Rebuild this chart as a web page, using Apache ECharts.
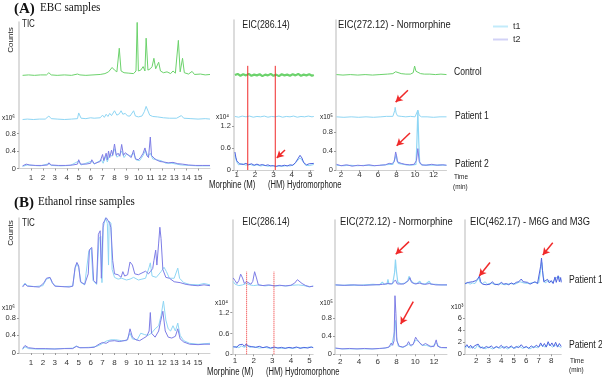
<!DOCTYPE html>
<html>
<head>
<meta charset="utf-8">
<script src="https://cdn.jsdelivr.net/npm/echarts@6.0.0/dist/echarts.min.js"></script>
<style>html,body{margin:0;background:#fff}#chart{width:602px;height:377px}</style>
</head>
<body>
<div id="chart"></div>
<script>
// tick labels
var ticTicks = [1,2,3,4,5,6,7,8,9,10,11,12,13,14,15];
var eic286Ticks = [1,2,3,4,5];
var eic272Ticks = [2,4,6,8,10,12];
var eic462Ticks = [2,3,4,5,6,7,8];
var ticY = [0,0.4,0.8];
var eic286Y = [0,0.6,1.2];
var eic272Y = [0,0.4,0.8];
var eic462Y = [0,2,4,6];

// (A) EBC samples - [time min, intensity]
var aTicCtrl = [[0.3,0],[0.8,0.01],[1.3,0],[1.8,0.01],[2.3,0.01],[2.5,0.06],[2.7,0.01],[3.2,0],[3.8,0.01],[4.4,0],[4.9,0.03],[5.1,0.01],[5.6,0],[6.2,0.01],[6.8,0.02],[7.2,0.04],[7.5,0.08],[7.8,0.18],[8.0,0.12],[8.2,0.08],[8.4,0.62],[8.55,0.1],[8.8,0.06],[9.2,0.05],[9.6,0.04],[9.8,0.1],[9.9,1.21],[10.0,0.1],[10.2,0.12],[10.4,0.2],[10.55,0.1],[10.65,0.85],[10.8,0.12],[11.0,0.15],[11.15,0.2],[11.3,0.39],[11.45,0.15],[11.7,0.3],[11.85,0.1],[12.1,0.06],[12.4,0.08],[12.7,0.04],[12.9,0.1],[13.1,0.05],[13.35,0.8],[13.5,0.08],[13.7,0.39],[13.85,0.06],[14.2,0.03],[14.5,0.09],[14.7,0.02],[15.2,0.03],[15.6,0.01],[16,0.02]];
var aTicP1 = [[0.3,0.02],[0.7,0.03],[1.2,0.02],[1.7,0.03],[2.2,0.03],[2.5,0.1],[2.7,0.04],[3.2,0.03],[3.8,0.02],[4.4,0.03],[4.9,0.04],[5.0,0.17],[5.2,0.05],[5.6,0.04],[6.0,0.06],[6.1,0.1],[6.3,0.05],[6.8,0.06],[7.0,0.12],[7.15,0.07],[7.3,0.14],[7.45,0.09],[7.6,0.16],[7.75,0.11],[8.0,0.22],[8.2,0.12],[8.4,0.15],[8.55,0.22],[8.7,0.14],[8.9,0.16],[9.1,0.1],[9.3,0.1],[9.6,0.22],[9.75,0.1],[10.0,0.08],[10.3,0.1],[10.5,0.2],[10.65,0.32],[10.8,0.3],[10.95,0.12],[11.2,0.09],[11.6,0.08],[12.1,0.06],[12.6,0.05],[13.2,0.05],[13.6,0.11],[13.8,0.05],[14.4,0.04],[15.0,0.03],[15.6,0.04],[16,0.03]];
var aTicP2t1 = [[0.3,0.05],[0.7,0.08],[1.2,0.07],[1.8,0.06],[2.5,0.11],[2.7,0.07],[3.5,0.06],[4.3,0.07],[5.0,0.17],[5.2,0.08],[6.1,0.17],[6.3,0.1],[6.9,0.2],[7.05,0.12],[7.25,0.28],[7.4,0.15],[7.6,0.32],[7.8,0.28],[8.0,0.45],[8.2,0.26],[8.4,0.3],[8.6,0.4],[8.8,0.25],[9.0,0.33],[9.3,0.28],[9.6,0.35],[9.8,0.2],[10.1,0.18],[10.4,0.3],[10.6,0.42],[10.8,0.28],[11.0,0.35],[11.2,0.22],[11.5,0.2],[11.9,0.18],[12.3,0.12],[12.8,0.12],[13.2,0.1],[13.6,0.08],[14.3,0.07],[15,0.06],[16,0.06]];
var aTicP2t2 = [[0.3,0.06],[0.6,0.1],[0.9,0.08],[1.4,0.07],[1.9,0.07],[2.4,0.08],[2.5,0.13],[2.7,0.08],[3.3,0.07],[3.9,0.07],[4.5,0.08],[4.9,0.1],[5.0,0.2],[5.15,0.1],[5.6,0.1],[6.0,0.12],[6.1,0.2],[6.3,0.11],[6.8,0.16],[7.0,0.32],[7.1,0.18],[7.3,0.35],[7.4,0.2],[7.5,0.4],[7.6,0.25],[7.75,0.42],[7.85,0.3],[8.0,0.56],[8.15,0.3],[8.3,0.35],[8.45,0.28],[8.6,0.55],[8.75,0.3],[8.9,0.36],[9.05,0.38],[9.2,0.3],[9.4,0.25],[9.6,0.42],[9.75,0.22],[10.0,0.2],[10.2,0.26],[10.4,0.35],[10.55,0.47],[10.7,0.3],[10.85,0.25],[11.0,0.72],[11.1,0.3],[11.3,0.24],[11.5,0.2],[11.8,0.16],[12.1,0.15],[12.5,0.13],[12.9,0.14],[13.3,0.11],[13.7,0.1],[14.2,0.08],[14.8,0.07],[15.4,0.07],[16,0.07]];

var aEic286Ctrl = [[0.9,0.03],[1.05,0.06],[1.2,0.01],[1.35,0.05],[1.5,0.02],[1.65,0.06],[1.8,0.01],[1.95,0.04],[2.1,0.02],[2.25,0.05],[2.4,0.0],[2.55,0.04],[2.7,0.02],[2.85,0.06],[3.0,0.01],[3.15,0.04],[3.3,0.0],[3.45,0.05],[3.6,0.02],[3.75,0.04],[3.9,0.01],[4.05,0.05],[4.2,0.02],[4.35,0.06],[4.5,0.01],[4.65,0.04],[4.8,0.02],[4.95,0.05],[5.1,0.01],[5.2,0.03]];
var aEic286P1 = [[0.9,0.04],[1.1,0.02],[1.3,0.05],[1.5,0.03],[1.7,0.05],[1.9,0.02],[2.1,0.04],[2.3,0.03],[2.5,0.05],[2.7,0.02],[2.9,0.04],[3.1,0.03],[3.3,0.05],[3.5,0.02],[3.7,0.04],[3.9,0.03],[4.1,0.05],[4.3,0.02],[4.5,0.04],[4.7,0.03],[4.9,0.05],[5.1,0.03],[5.2,0.04]];
var aEic286P2t1 = [[0.9,0.4],[1.0,0.22],[1.1,0.14],[1.3,0.17],[1.5,0.13],[1.7,0.16],[1.9,0.12],[2.1,0.14],[2.3,0.11],[2.5,0.13],[2.7,0.1],[2.9,0.12],[3.1,0.09],[3.3,0.11],[3.5,0.1],[3.7,0.12],[3.9,0.11],[4.1,0.14],[4.3,0.25],[4.45,0.33],[4.6,0.24],[4.75,0.13],[4.95,0.12],[5.2,0.15]];
var aEic286P2t2 = [[0.9,0.49],[0.95,0.35],[1.0,0.25],[1.05,0.2],[1.15,0.17],[1.25,0.2],[1.35,0.15],[1.5,0.18],[1.65,0.14],[1.8,0.17],[1.95,0.13],[2.1,0.16],[2.25,0.13],[2.4,0.15],[2.55,0.12],[2.7,0.14],[2.85,0.11],[3.0,0.12],[3.15,0.1],[3.3,0.12],[3.45,0.11],[3.6,0.13],[3.75,0.11],[3.9,0.14],[4.05,0.13],[4.2,0.2],[4.35,0.32],[4.45,0.4],[4.55,0.33],[4.65,0.2],[4.8,0.14],[4.95,0.17],[5.05,0.13],[5.2,0.18]];

var aEic272Ctrl = [[1.5,0.01],[2.2,0.0],[3.0,0.01],[3.8,0.0],[4.6,0.01],[5.4,0.0],[6.2,0.01],[7.0,0.02],[7.6,0.03],[7.9,0.07],[8.1,0.04],[8.5,0.03],[9.0,0.02],[9.5,0.02],[9.8,0.05],[9.95,0.19],[10.1,0.08],[10.3,0.05],[10.6,0.03],[11.0,0.02],[11.6,0.02],[12.2,0.01],[12.8,0.02],[13.4,0.01]];
var aEic272P1 = [[1.5,0.02],[2.3,0.01],[3.1,0.02],[3.9,0.01],[4.7,0.02],[5.5,0.01],[6.3,0.02],[6.9,0.03],[7.0,0.07],[7.1,0.02],[7.6,0.03],[7.8,0.15],[7.85,0.22],[7.95,0.1],[8.1,0.04],[8.5,0.03],[9.0,0.02],[9.5,0.03],[10.0,0.02],[10.15,0.06],[10.3,0.16],[10.45,0.05],[10.7,0.02],[11.3,0.02],[12.0,0.01],[12.7,0.02],[13.4,0.02]];
var aEic272P2t1 = [[1.5,0.1],[2.2,0.09],[3.0,0.1],[3.8,0.09],[4.6,0.1],[5.4,0.09],[6.2,0.1],[6.8,0.11],[7.2,0.12],[7.6,0.12],[7.85,0.25],[7.95,0.32],[8.05,0.2],[8.2,0.14],[8.5,0.13],[9.0,0.11],[9.6,0.1],[10.1,0.12],[10.2,0.6],[10.3,1.26],[10.4,0.6],[10.5,0.15],[10.8,0.1],[11.4,0.11],[12.0,0.1],[12.6,0.11],[13.4,0.1]];
var aEic272P2t2 = [[1.5,0.12],[2.0,0.09],[2.6,0.11],[3.2,0.08],[3.8,0.1],[4.4,0.09],[5.0,0.11],[5.6,0.09],[6.2,0.1],[6.8,0.11],[7.2,0.14],[7.5,0.13],[7.75,0.18],[7.9,0.38],[8.0,0.3],[8.1,0.17],[8.3,0.2],[8.5,0.14],[8.9,0.12],[9.4,0.11],[9.9,0.12],[10.15,0.2],[10.3,0.45],[10.45,0.18],[10.7,0.11],[11.2,0.1],[11.8,0.12],[12.4,0.1],[13.0,0.11],[13.4,0.1]];

// (B) Ethanol rinse samples
var bTicP1t1 = [[0.3,0.02],[0.5,0.09],[0.7,0.03],[1.3,0.01],[2.0,0.03],[2.3,0.18],[2.6,0.21],[2.8,0.08],[3.1,0.02],[3.8,0.01],[4.5,0.02],[4.7,0.42],[4.85,0.53],[5.0,0.44],[5.2,0.1],[5.5,0.05],[5.85,0.82],[6.05,0.88],[6.2,0.15],[6.5,0.06],[6.7,1.1],[6.85,1.15],[6.95,0.1],[7.05,1.35],[7.25,1.58],[7.4,1.45],[7.5,0.5],[7.55,1.5],[7.7,1.45],[7.8,0.4],[8.0,0.22],[8.3,0.18],[8.6,0.2],[9.0,0.16],[9.3,0.18],[9.6,0.22],[10.0,0.16],[10.3,0.18],[10.6,0.2],[10.9,0.45],[11.0,0.55],[11.15,0.25],[11.5,0.22],[11.9,0.35],[12.15,0.45],[12.35,0.35],[12.6,0.2],[13.0,0.2],[13.3,0.43],[13.45,0.2],[13.8,0.1],[14.3,0.06],[15.0,0.05],[15.5,0.08],[16,0.05]];
var bTicP1t2 = [[0.3,0.0],[0.5,0.07],[0.7,0.02],[1.2,0.01],[1.7,0.0],[2.1,0.1],[2.3,0.2],[2.6,0.22],[2.8,0.1],[3.0,0.02],[3.6,0.01],[4.2,0.0],[4.5,0.02],[4.7,0.45],[4.85,0.56],[5.0,0.48],[5.15,0.12],[5.5,0.06],[5.8,0.3],[5.9,0.85],[6.1,0.9],[6.25,0.15],[6.5,0.08],[6.65,1.2],[6.8,1.28],[6.9,0.2],[7.05,1.45],[7.2,1.52],[7.3,1.58],[7.45,1.55],[7.6,1.45],[7.7,1.35],[7.85,0.6],[8.0,0.3],[8.3,0.28],[8.55,0.22],[8.7,0.35],[8.85,0.25],[9.1,0.28],[9.3,0.57],[9.5,0.5],[9.7,0.3],[10.0,0.28],[10.3,0.32],[10.6,0.36],[10.85,0.3],[11.0,0.35],[11.2,0.42],[11.3,0.6],[11.45,0.84],[11.55,0.5],[11.7,1.0],[11.8,1.36],[11.9,1.1],[12.05,0.4],[12.3,0.22],[12.6,0.2],[13.0,0.12],[13.5,0.1],[14.0,0.06],[14.5,0.04],[15.0,0.03],[15.5,0.05],[16,0.03]];
var bTicP2t1 = [[0.3,0.08],[0.5,0.14],[0.8,0.1],[1.5,0.09],[2.5,0.09],[3.5,0.1],[4.5,0.11],[4.8,0.16],[5.1,0.12],[6.0,0.13],[6.5,0.15],[6.9,0.2],[7.3,0.27],[7.7,0.3],[8.1,0.3],[8.6,0.28],[9.0,0.28],[9.3,0.45],[9.5,0.32],[9.9,0.3],[10.2,0.45],[10.5,0.42],[10.8,0.4],[11.1,0.45],[11.4,0.55],[11.7,0.62],[11.9,0.85],[12.1,1.18],[12.3,0.75],[12.5,0.55],[12.7,0.5],[12.9,0.62],[13.1,0.5],[13.3,0.68],[13.5,0.4],[13.8,0.28],[14.3,0.22],[15.0,0.2],[15.5,0.21],[16,0.22]];
var bTicP2t2 = [[0.3,0.1],[0.5,0.17],[0.8,0.12],[1.4,0.1],[2.2,0.1],[3.0,0.09],[3.8,0.1],[4.5,0.1],[4.8,0.15],[5.1,0.12],[5.8,0.12],[6.3,0.13],[6.7,0.2],[7.0,0.24],[7.3,0.22],[7.6,0.27],[8.0,0.28],[8.4,0.26],[8.8,0.28],[9.1,0.3],[9.3,0.55],[9.5,0.36],[9.8,0.3],[10.1,0.28],[10.4,0.33],[10.7,0.38],[10.9,0.5],[11.0,0.92],[11.1,0.45],[11.4,0.36],[11.7,0.5],[11.85,0.7],[12.05,0.95],[12.25,0.5],[12.5,0.36],[12.8,0.34],[13.1,0.38],[13.3,0.55],[13.5,0.32],[13.8,0.25],[14.3,0.2],[15.0,0.19],[15.5,0.2],[16,0.2]];

var bEic286P1t1 = [[0.9,0.2],[1.0,0.12],[1.2,0.08],[1.4,0.1],[1.6,0.14],[1.8,0.1],[2.0,0.08],[2.3,0.1],[2.6,0.07],[2.9,0.09],[3.2,0.07],[3.5,0.08],[3.8,0.07],[4.1,0.09],[4.4,0.1],[4.7,0.08],[5.0,0.04],[5.2,0.07]];
var bEic286P1t2 = [[0.9,0.3],[1.0,0.22],[1.1,0.14],[1.2,0.22],[1.3,0.41],[1.4,0.3],[1.5,0.14],[1.6,0.2],[1.7,0.15],[1.85,0.12],[1.95,0.2],[2.05,0.48],[2.15,0.3],[2.25,0.1],[2.5,0.08],[2.8,0.1],[3.1,0.07],[3.4,0.09],[3.7,0.07],[4.0,0.09],[4.2,0.15],[4.35,0.25],[4.45,0.27],[4.6,0.14],[4.8,0.08],[5.0,0.05],[5.2,0.06]];
var bEic286P2t1 = [[0.9,0.2],[1.05,0.23],[1.2,0.19],[1.35,0.24],[1.5,0.2],[1.65,0.25],[1.8,0.2],[2.0,0.22],[2.3,0.18],[2.6,0.2],[2.9,0.17],[3.2,0.19],[3.5,0.17],[3.8,0.19],[4.1,0.17],[4.4,0.2],[4.7,0.18],[5.0,0.21],[5.2,0.2]];
var bEic286P2t2 = [[0.9,0.22],[1.0,0.25],[1.1,0.2],[1.2,0.27],[1.3,0.22],[1.4,0.29],[1.5,0.23],[1.6,0.3],[1.7,0.24],[1.8,0.28],[1.9,0.22],[2.0,0.26],[2.1,0.2],[2.3,0.23],[2.5,0.19],[2.7,0.22],[2.9,0.18],[3.1,0.21],[3.3,0.18],[3.5,0.2],[3.7,0.17],[3.9,0.2],[4.1,0.18],[4.3,0.21],[4.5,0.17],[4.7,0.2],[4.9,0.18],[5.1,0.21],[5.2,0.19]];

var bEic272P1t1 = [[1.5,0.04],[2.3,0.03],[3.1,0.04],[3.9,0.03],[4.7,0.04],[5.5,0.05],[6.2,0.04],[6.5,0.1],[6.7,0.05],[7.0,0.06],[7.1,0.16],[7.2,0.06],[7.6,0.07],[7.8,0.3],[7.9,0.6],[8.0,0.35],[8.15,0.1],[8.5,0.06],[8.9,0.08],[9.2,0.12],[9.35,0.23],[9.5,0.15],[9.8,0.08],[10.2,0.07],[10.5,0.12],[10.7,0.06],[11.2,0.07],[11.5,0.12],[11.7,0.05],[12.2,0.05],[12.8,0.04],[13.4,0.04]];
var bEic272P1t2 = [[1.5,0.04],[2.5,0.03],[3.5,0.04],[4.5,0.03],[5.5,0.04],[6.5,0.05],[7.1,0.07],[7.5,0.06],[7.9,0.15],[8.1,0.06],[8.8,0.06],[9.3,0.14],[9.45,0.2],[9.6,0.1],[10.0,0.06],[10.5,0.08],[11.0,0.05],[11.5,0.07],[12.2,0.04],[13.4,0.04]];
var bEic272P2t1 = [[1.5,0.13],[2.5,0.12],[3.5,0.12],[4.5,0.12],[5.5,0.12],[6.5,0.13],[7.1,0.15],[7.5,0.2],[7.8,0.5],[7.9,0.75],[8.0,0.4],[8.2,0.18],[8.7,0.15],[9.3,0.22],[9.6,0.18],[10.1,0.32],[10.4,0.28],[10.7,0.2],[11.2,0.2],[11.7,0.16],[12.3,0.25],[12.6,0.15],[13.4,0.14]];
var bEic272P2t2 = [[1.5,0.14],[2.2,0.12],[3.0,0.13],[3.8,0.12],[4.6,0.13],[5.4,0.12],[6.2,0.13],[6.8,0.14],[7.2,0.16],[7.45,0.25],[7.6,0.2],[7.75,0.3],[7.85,1.3],[7.95,0.9],[8.05,0.3],[8.3,0.18],[8.7,0.16],[9.1,0.2],[9.3,0.28],[9.5,0.2],[9.8,0.22],[10.05,0.38],[10.2,0.33],[10.35,0.36],[10.5,0.25],[10.8,0.2],[11.1,0.24],[11.3,0.22],[11.6,0.18],[12.0,0.17],[12.25,0.32],[12.4,0.18],[12.8,0.15],[13.4,0.15]];

var bEic462P1t1 = [[1.1,0.2],[1.3,0.5],[1.5,0.2],[1.7,0.4],[1.9,0.3],[2.1,0.9],[2.2,1.3],[2.3,0.5],[2.5,0.3],[2.7,0.6],[2.9,0.2],[3.2,0.4],[3.5,0.1],[3.9,0.3],[4.3,0.1],[4.7,0.3],[5.1,0.2],[5.5,0.6],[5.65,0.9],[5.8,0.4],[6.2,0.3],[6.6,0.5],[7.0,0.4],[7.15,2.5],[7.25,3.8],[7.35,1.5],[7.5,0.4],[7.8,0.8],[8.1,0.5],[8.35,1.2],[8.6,1.5],[8.8,0.8]];
var bEic462P1t2 = [[1.1,0.3],[1.25,0.1],[1.4,0.5],[1.55,0.2],[1.7,0.6],[1.85,0.3],[2.0,0.8],[2.15,1.2],[2.25,1.55],[2.35,0.6],[2.5,0.2],[2.65,0.5],[2.8,0.1],[2.95,0.4],[3.1,0.2],[3.3,0.6],[3.45,0.2],[3.6,0.4],[3.8,0.1],[4.0,0.5],[4.2,0.2],[4.4,0.3],[4.6,0.1],[4.8,0.4],[5.0,0.2],[5.2,0.5],[5.4,0.6],[5.6,1.05],[5.75,0.6],[5.9,0.3],[6.1,0.5],[6.3,0.2],[6.5,0.4],[6.7,0.6],[6.9,0.3],[7.05,0.5],[7.15,3.2],[7.22,4.55],[7.3,2.5],[7.4,0.6],[7.55,0.3],[7.7,1.0],[7.85,0.4],[8.0,0.8],[8.15,0.3],[8.3,1.4],[8.4,0.5],[8.55,1.6],[8.65,0.6],[8.75,1.3],[8.8,0.5]];
var bEic462P2t1 = [[1.1,1.0],[1.3,1.4],[1.5,1.0],[1.7,1.3],[1.9,0.9],[2.1,1.5],[2.3,1.0],[2.5,1.3],[2.7,0.9],[3.0,1.2],[3.3,0.9],[3.6,1.2],[3.9,1.0],[4.2,1.3],[4.5,0.9],[4.8,1.2],[5.1,1.0],[5.4,1.4],[5.7,1.0],[6.0,1.2],[6.3,0.9],[6.6,1.3],[6.9,1.1],[7.2,1.6],[7.5,1.2],[7.8,1.7],[8.1,1.2],[8.4,1.6],[8.8,1.1]];
var bEic462P2t2 = [[1.1,1.2],[1.25,1.6],[1.4,1.1],[1.55,1.5],[1.7,1.0],[1.85,1.4],[2.0,1.1],[2.15,1.7],[2.3,1.2],[2.45,1.5],[2.6,1.0],[2.8,1.3],[3.0,1.1],[3.2,1.4],[3.4,1.0],[3.6,1.3],[3.8,1.1],[4.0,1.5],[4.2,1.0],[4.4,1.3],[4.6,1.1],[4.8,1.4],[5.0,1.0],[5.2,1.3],[5.4,1.1],[5.6,1.6],[5.8,1.1],[6.0,1.3],[6.2,1.0],[6.4,1.4],[6.6,1.1],[6.8,1.5],[7.0,1.2],[7.15,1.9],[7.3,1.3],[7.45,1.8],[7.6,1.2],[7.75,2.1],[7.9,1.4],[8.05,1.9],[8.2,1.3],[8.35,2.0],[8.5,1.2],[8.65,1.8],[8.8,1.3]];

// markers: retention times of M and HM
var markTimesA = [1.6, 3.1];
var markTimesB = [1.62, 3.09];

// ---------------- layout ----------------
var FONT = '"Liberation Sans", Arial, sans-serif';
var SERIF = '"Liberation Serif", "Times New Roman", serif';
var GREEN = '#6cd26c', T1 = '#8fd6f4', T2 = '#7d7de6', T2D = '#4f63e0', RED = '#f02a2a';

// grid boxes: left, top, width, height, xmin, xmax, ymax, xticks, yticks, label margin
var boxes = [
  [19, 22, 191, 146.5, 0, 16, 3.35, ticTicks, ticY, 5],
  [234, 20, 79.8, 150, 0.85, 5.2, 4.09, eic286Ticks, eic286Y, 1],
  [336, 20, 110.5, 150, 1.45, 13.4, 3.16, eic272Ticks, eic272Y, 1],
  [19, 218, 191, 135, 0, 16, 3.07, ticTicks, ticY, 6],
  [232.3, 220, 80.9, 134.3, 0.85, 5.2, 3.87, eic286Ticks, eic286Y, 2],
  [335, 220, 112, 134.3, 1.45, 13.4, 2.98, eic272Ticks, eic272Y, 3],
  [465, 220, 96.25, 134.3, 1.1, 8.8, 22.4, eic462Ticks, eic462Y, 2]
];

var grids = [], xAxes = [], yAxes = [];
boxes.forEach(function (b, i) {
  grids.push({left: b[0], top: b[1], width: b[2], height: b[3], containLabel: false});
  xAxes.push({
    type: 'value', gridIndex: i, min: b[4], max: b[5],
    axisLine: {show: true, lineStyle: {color: '#d0d0d0', width: 1}},
    axisTick: {show: true, customValues: b[7], length: 2, lineStyle: {color: '#999'}},
    axisLabel: {customValues: b[7], fontSize: 8, color: '#333', margin: b[9], fontFamily: FONT},
    splitLine: {show: false}
  });
  yAxes.push({
    type: 'value', gridIndex: i, min: 0, max: b[6],
    axisLine: {show: true, lineStyle: {color: '#d0d0d0', width: 1.5}},
    axisTick: {show: true, customValues: b[8], length: 2, lineStyle: {color: '#999'}},
    axisLabel: {customValues: b[8], fontSize: 7.5, color: '#333', margin: 3, fontFamily: FONT,
      formatter: function (v) { return v === 0 || v >= 2 ? String(v) : v.toFixed(1); }},
    splitLine: {show: false}
  });
});

function trace(name, data, off, color, g, w, extra) {
  var s = {
    name: name, type: 'line', xAxisIndex: g, yAxisIndex: g, symbol: 'none', silent: true,
    data: data.map(function (p) { return [p[0], p[1] + off]; }),
    lineStyle: {color: color, width: w || 1}, itemStyle: {color: color}
  };
  if (extra) s.markLine = extra;
  return s;
}

// red marker lines for M and HM retention times
function vline(t, top, g, dotted) {
  return {
    name: 'marker', type: 'line', xAxisIndex: g, yAxisIndex: g, symbol: 'none', silent: true, z: 3,
    data: [[t, 0], [t, top]],
    lineStyle: {color: RED, width: 1, type: dotted ? 'dotted' : 'solid'}, itemStyle: {color: RED}
  };
}
function arrows(list) {
  var ls = {color: RED, width: 1.5, type: 'solid'};
  return {
    silent: true, symbol: ['none', 'arrow'], symbolSize: [6, 7], label: {show: false}, lineStyle: ls,
    itemStyle: {color: RED},
    data: list.map(function (a) { return [{coord: a[0], lineStyle: ls}, {coord: a[1], lineStyle: ls}]; })
  };
}

var series = [
  trace('Control', aTicCtrl, 2.13, GREEN, 0),
  trace('t1', aTicP1, 1.1, T1, 0),
  trace('t1', aTicP2t1, 0, T1, 0),
  trace('t2', aTicP2t2, 0, T2, 0),

  trace('Control', aEic286Ctrl, 2.56, GREEN, 1, 2.2),
  trace('t1', aEic286P1, 1.42, T1, 1),
  trace('t1', aEic286P2t1, 0, T1, 1),
  trace('t2', aEic286P2t2, 0, T2D, 1, 1, arrows([[[3.63, 0.545], [3.18, 0.33]]])),
  vline(markTimesA[0], 2.84, 1, false),
  vline(markTimesA[1], 2.84, 1, false),

  trace('Control', aEic272Ctrl, 2.0, GREEN, 2),
  trace('t1', aEic272P1, 1.1, T1, 2),
  trace('t1', aEic272P2t1, 0, T1, 2, 1.2),
  trace('t2', aEic272P2t2, 0, T2, 2, 1, arrows([[[9.23, 1.68], [7.9, 1.43]], [[9.45, 0.78], [8.01, 0.51]]])),

  trace('t1', bTicP1t1, 1.5, T1, 3),
  trace('t2', bTicP1t2, 1.5, T2, 3),
  trace('t1', bTicP2t1, 0, T1, 3),
  trace('t2', bTicP2t2, 0, T2, 3),

  trace('t1', bEic286P1t1, 1.9, T1, 4),
  trace('t2', bEic286P1t2, 1.9, T2, 4),
  trace('t1', bEic286P2t1, 0, T1, 4),
  trace('t2', bEic286P2t2, 0, T2D, 4),
  vline(markTimesB[0], 2.38, 4, true),
  vline(markTimesB[1], 2.38, 4, true),

  trace('t1', bEic272P1t1, 1.5, T1, 5, 1.2),
  trace('t2', bEic272P1t2, 1.5, T2, 5),
  trace('t1', bEic272P2t1, 0, T1, 5),
  trace('t2', bEic272P2t2, 0, T2, 5, 1, arrows([[[9.35, 2.5], [7.93, 2.22]], [[9.8, 1.17], [8.46, 0.67]]])),

  trace('t1', bEic462P1t1, 11.5, T1, 6),
  trace('t2', bEic462P1t2, 11.5, T2D, 6, 1, arrows([[[3.1, 15.3], [2.24, 13.05]], [[8.12, 18.6], [7.32, 16.55]]])),
  trace('t1', bEic462P2t1, 0, T1, 6),
  trace('t2', bEic462P2t2, 0, T2D, 6)
];

// text labels; the original lettering is narrow, so scale it horizontally
function txt(x, y, s, size, opt) {
  opt = opt || {};
  return {
    type: 'text', x: x, y: y, rotation: opt.rot || 0, scaleX: opt.sx || 0.8, silent: true,
    style: {text: s, fill: opt.color || '#222', align: opt.align || 'left', verticalAlign: 'middle',
      font: (opt.bold ? 'bold ' : '') + size + 'px ' + (opt.font || FONT)}
  };
}

var graphics = [
  txt(14, 9, '(A)', 15, {bold: true, font: SERIF, color: '#111', sx: 1}),
  txt(40, 8, 'EBC samples', 12, {font: SERIF, color: '#111', sx: 0.93}),
  txt(22, 24, 'TIC', 10),
  txt(11, 40, 'Counts', 8, {rot: Math.PI / 2, align: 'center', sx: 1}),
  txt(2, 118, 'x10\u2076', 8),
  txt(266, 25, 'EIC(286.14)', 11, {align: 'center'}),
  txt(216, 117, 'x10\u2074', 8),
  txt(338, 25, 'EIC(272.12) - Normorphine', 11, {sx: 0.85}),
  txt(320, 117, 'x10\u2075', 8),
  txt(454, 72, 'Control', 11, {sx: 0.78}),
  txt(455, 116, 'Patient 1', 11, {sx: 0.78}),
  txt(455, 164, 'Patient 2', 11, {sx: 0.78}),
  txt(209, 185, 'Morphine (M)', 10, {sx: 0.78}),
  txt(268, 185, '(HM) Hydromorphone', 10, {sx: 0.76}),
  txt(454, 177, 'Time', 8),
  txt(453, 187, '(min)', 8),

  txt(14, 203, '(B)', 15, {bold: true, font: SERIF, color: '#111', sx: 1}),
  txt(38, 202, 'Ethanol rinse samples', 12, {font: SERIF, color: '#111', sx: 0.92}),
  txt(22, 223, 'TIC', 10),
  txt(11, 233, 'Counts', 8, {rot: Math.PI / 2, align: 'center', sx: 1}),
  txt(2, 307.7, 'x10\u2076', 8),
  txt(266, 222, 'EIC(286.14)', 11, {align: 'center'}),
  txt(215, 303, 'x10\u2074', 8),
  txt(340, 222, 'EIC(272.12) - Normorphine', 11, {sx: 0.85}),
  txt(320, 303, 'x10\u2075', 8),
  txt(470, 222, 'EIC(462.17) - M6G and M3G', 11, {sx: 0.85}),
  txt(451, 306.7, 'x10\u00b3', 8),
  txt(569, 280, 'Patient 1', 11, {sx: 0.78}),
  txt(569, 345, 'Patient 2', 11, {sx: 0.78}),
  txt(207, 372, 'Morphine (M)', 10, {sx: 0.78}),
  txt(266, 372, '(HM) Hydromorphone', 10, {sx: 0.76}),
  txt(570, 361, 'Time', 8),
  txt(569, 370, '(min)', 8)
];

var chart = echarts.init(document.getElementById('chart'));
chart.setOption({
  animation: false,
  backgroundColor: '#fff',
  legend: {
    orient: 'vertical', left: 488, top: 17, itemGap: 4, itemWidth: 15, itemHeight: 2, icon: 'rect',
    selectedMode: false,
    textStyle: {fontSize: 9, color: '#333', fontFamily: FONT},
    data: [{name: 't1', itemStyle: {color: '#c2ebfa'}}, {name: 't2', itemStyle: {color: '#d2d2f6'}}]
  },
  grid: grids, xAxis: xAxes, yAxis: yAxes,
  series: series,
  graphic: graphics
});
</script>
</body>
</html>
